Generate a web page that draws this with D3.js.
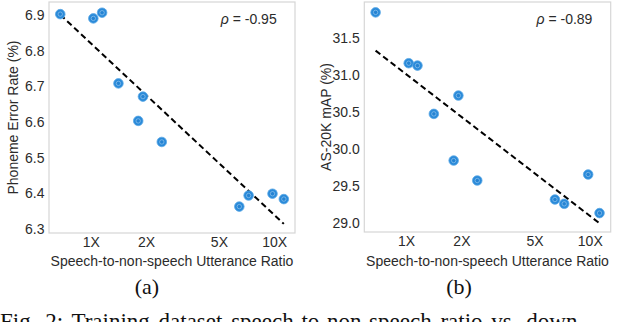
<!DOCTYPE html>
<html>
<head>
<meta charset="utf-8">
<script src="https://cdn.jsdelivr.net/npm/d3@7"></script>
<style>
  html, body { margin: 0; padding: 0; background: #fff; overflow: hidden; }
  svg { display: block; }
</style>
</head>
<body>
<svg id="chart" width="640" height="322"></svg>
<script>
// speech-to-non-speech utterance ratio of each training set (shared by both panels)
var ratios = [0.682, 1.033, 1.153, 1.416, 1.926, 1.815, 2.44, 6.46, 7.26, 9.8, 11.3];
// phoneme error rate (%) for panel (a)
var perValues = [6.902, 6.890, 6.906, 6.708, 6.671, 6.603, 6.544, 6.363, 6.394, 6.399, 6.384];
// AS-20K mAP (%) for panel (b)
var mapValues = [31.84, 31.155, 31.123, 30.472, 30.719, 29.843, 29.574, 29.318, 29.26, 29.655, 29.135];

var xTicks = [1, 2, 5, 10];
var xTickLabels = ["1X", "2X", "5X", "10X"];
var perTicks = [6.3, 6.4, 6.5, 6.6, 6.7, 6.8, 6.9];
var mapTicks = [29.0, 29.5, 30.0, 30.5, 31.0, 31.5];

var svg = d3.select("#chart");
var sans = "'Liberation Sans', Arial, Helvetica, sans-serif";
var serif = "'Liberation Serif', 'Times New Roman', serif";
var textColor = "#2b2b2b";

function drawPanel(opts) {
    var x = d3.scaleLog().domain([0.592, 13.0]).range([opts.left, opts.right]);
    var y = d3.scaleLinear().domain(opts.yDomain).range([opts.bottom, opts.top]);
    var g = svg.append("g");

    // frame
    g.append("rect")
        .attr("x", opts.left)
        .attr("y", opts.top)
        .attr("width", opts.right - opts.left)
        .attr("height", opts.bottom - opts.top)
        .attr("fill", "none")
        .attr("stroke", "#d6d6d6")
        .attr("stroke-width", 1.2);

    // y axis
    var yAxis = g.append("g")
        .attr("transform", "translate(" + opts.left + ",0)")
        .call(d3.axisLeft(y).tickValues(opts.yTicks).tickSize(0).tickPadding(4.5).tickFormat(d3.format(opts.yFormat)));
    yAxis.select(".domain").remove();
    yAxis.selectAll("text")
        .style("font-family", sans)
        .style("font-size", "14px")
        .attr("fill", textColor);

    // x axis
    var xAxis = g.append("g")
        .attr("transform", "translate(0," + opts.bottom + ")")
        .call(d3.axisBottom(x).tickValues(xTicks).tickSize(0).tickPadding(4.5)
            .tickFormat(function(d, i) { return xTickLabels[i]; }));
    xAxis.select(".domain").remove();
    xAxis.selectAll("text")
        .style("font-family", sans)
        .style("font-size", "14px")
        .attr("fill", textColor);

    // axis titles
    g.append("text")
        .attr("x", (opts.left + opts.right) / 2)
        .attr("y", 265.5)
        .attr("text-anchor", "middle")
        .style("font-family", sans)
        .style("font-size", "14px")
        .attr("fill", textColor)
        .text("Speech-to-non-speech Utterance Ratio");

    g.append("text")
        .attr("transform", "translate(" + opts.yLabelX + "," + ((opts.top + opts.bottom) / 2) + ") rotate(-90)")
        .attr("text-anchor", "middle")
        .attr("dy", "0.35em")
        .style("font-family", sans)
        .style("font-size", "14px")
        .attr("fill", textColor)
        .text(opts.yLabel);

    // least squares fit in log10(x)
    var lx = ratios.map(function(d) { return Math.log10(d); });
    var mx = d3.mean(lx), my = d3.mean(opts.values);
    var sxy = d3.sum(lx, function(d, i) { return (d - mx) * (opts.values[i] - my); });
    var sxx = d3.sum(lx, function(d) { return (d - mx) * (d - mx); });
    var slope = sxy / sxx;
    var x0 = d3.min(ratios), x1 = d3.max(ratios);
    var fit = function(r) { return my + slope * (Math.log10(r) - mx); };

    g.append("line")
        .attr("x1", x(x0)).attr("y1", y(fit(x0)))
        .attr("x2", x(x1)).attr("y2", y(fit(x1)))
        .attr("stroke", "#000")
        .attr("stroke-width", 2)
        .attr("stroke-dasharray", "6,3.5");

    // points
    var pts = g.selectAll("g.pt")
        .data(ratios)
        .enter()
        .append("g")
        .attr("class", "pt")
        .attr("transform", function(d, i) { return "translate(" + x(d) + "," + y(opts.values[i]) + ")"; });
    pts.append("circle")
        .attr("r", 4.8)
        .attr("fill", "#2a8ad9")
        .attr("stroke", "#5aa8e6")
        .attr("stroke-width", 0.8);
    pts.append("circle")
        .attr("r", 2.2)
        .attr("fill", "#2483d3")
        .attr("stroke", "#bcdcf5")
        .attr("stroke-opacity", 0.7)
        .attr("stroke-width", 0.7);

    // correlation label
    g.append("text")
        .attr("x", opts.right - 18.3)
        .attr("y", 24)
        .attr("text-anchor", "end")
        .style("font-family", sans)
        .style("font-size", "14px")
        .attr("fill", textColor)
        .html("<tspan font-style='italic'>\u03c1</tspan> = " + opts.rho);

    // subfigure label
    svg.append("text")
        .attr("x", opts.subX)
        .attr("y", 293.5)
        .attr("text-anchor", "middle")
        .style("font-family", serif)
        .style("font-size", "22px")
        .attr("fill", "#111")
        .text(opts.sub);
}

drawPanel({
    left: 49, right: 295, top: 2, bottom: 233,
    yDomain: [6.289, 6.936], yTicks: perTicks, yFormat: ".1f",
    values: perValues, yLabel: "Phoneme Error Rate (%)", yLabelX: 13,
    rho: "-0.95", sub: "(a)", subX: 147
});

drawPanel({
    left: 364.3, right: 610.7, top: 2, bottom: 232,
    yDomain: [28.88, 31.98], yTicks: mapTicks, yFormat: ".1f",
    values: mapValues, yLabel: "AS-20K mAP (%)", yLabelX: 326,
    rho: "-0.89", sub: "(b)", subX: 459
});

// figure caption (cut off by the bottom edge, as in the source figure)
svg.append("text")
    .attr("x", 0)
    .attr("y", 328.5)
    .style("font-family", serif)
    .style("font-size", "23px")
    .attr("fill", "#111")
    .attr("word-spacing", "3px")
    .text("Fig. 2: Training dataset speech-to-non-speech ratio vs. down-");
</script>
</body>
</html>
